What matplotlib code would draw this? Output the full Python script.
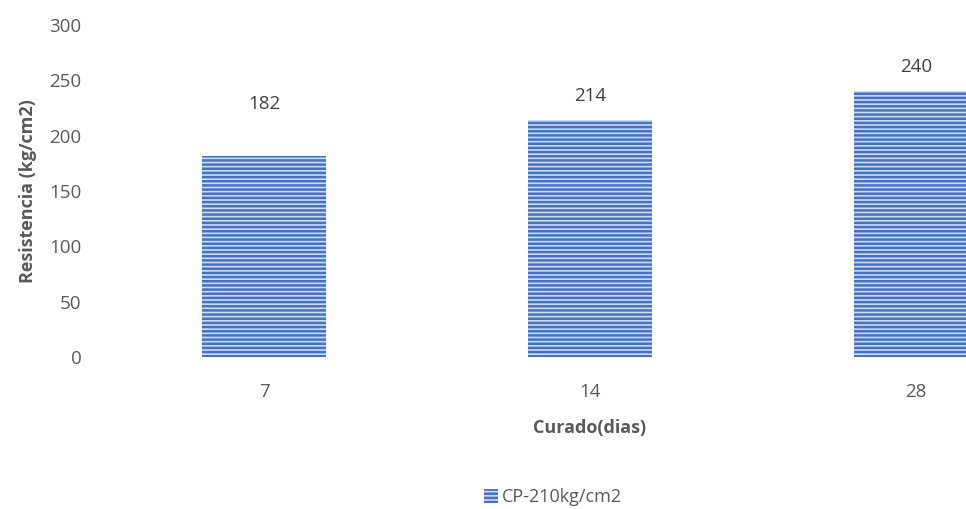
import matplotlib
matplotlib.use("Agg")
import matplotlib.pyplot as plt
from matplotlib.patches import Patch

plt.rcParams['font.family'] = ['Open Sans', 'DejaVu Sans']
plt.rcParams['hatch.linewidth'] = 1.8

categories = ['7', '14', '28']
values = [182, 214, 240]
series_name = 'CP-210kg/cm2'
y_ticks = [0, 50, 100, 150, 200, 250, 300]

# vertical offset of each data label above its bar (in data units)
label_offsets = [38, 14, 14]

text_color = '#595959'
dark_blue = '#4472C4'
light_blue = '#CCDAF2'

fig = plt.figure(figsize=(9.66, 5.09), dpi=100)
ax = fig.add_axes([0.1046, 0.2986, 1.0124, 0.6524])

x = range(len(categories))
ax.bar(x, values, width=0.38, color=light_blue, edgecolor=dark_blue,
       linewidth=0, hatch='----', label=series_name)

for xi, v, off in zip(x, values, label_offsets):
    ax.text(xi, v + off, str(v), ha='center', va='bottom', fontsize=13.5,
            color='#404040')

ax.set_xlim(-0.5, len(categories) - 0.5)
ax.set_ylim(0, 300)
ax.set_yticks(y_ticks)
ax.set_xticks(list(x))
ax.set_xticklabels(categories)
ax.tick_params(axis='both', length=0, labelsize=13.5, colors=text_color)
ax.tick_params(axis='y', pad=14)
ax.tick_params(axis='x', pad=19)
for s in ax.spines.values():
    s.set_visible(False)

ax.set_ylabel('Resistencia (kg/cm2)', fontsize=13, fontweight='bold',
              color=text_color, labelpad=9)
ax.set_xlabel('Curado(dias)', fontsize=13, fontweight='bold',
              color=text_color, labelpad=13)

handle = Patch(facecolor=light_blue, edgecolor=dark_blue, linewidth=0, hatch='----')
fig.legend([handle], [series_name], loc='center', bbox_to_anchor=(553 / 966, 1 - 497 / 509),
           frameon=False, fontsize=13, labelcolor=text_color,
           handlelength=0.8, handleheight=0.8, handletextpad=0.2)

fig.savefig('out.png', dpi=100)
